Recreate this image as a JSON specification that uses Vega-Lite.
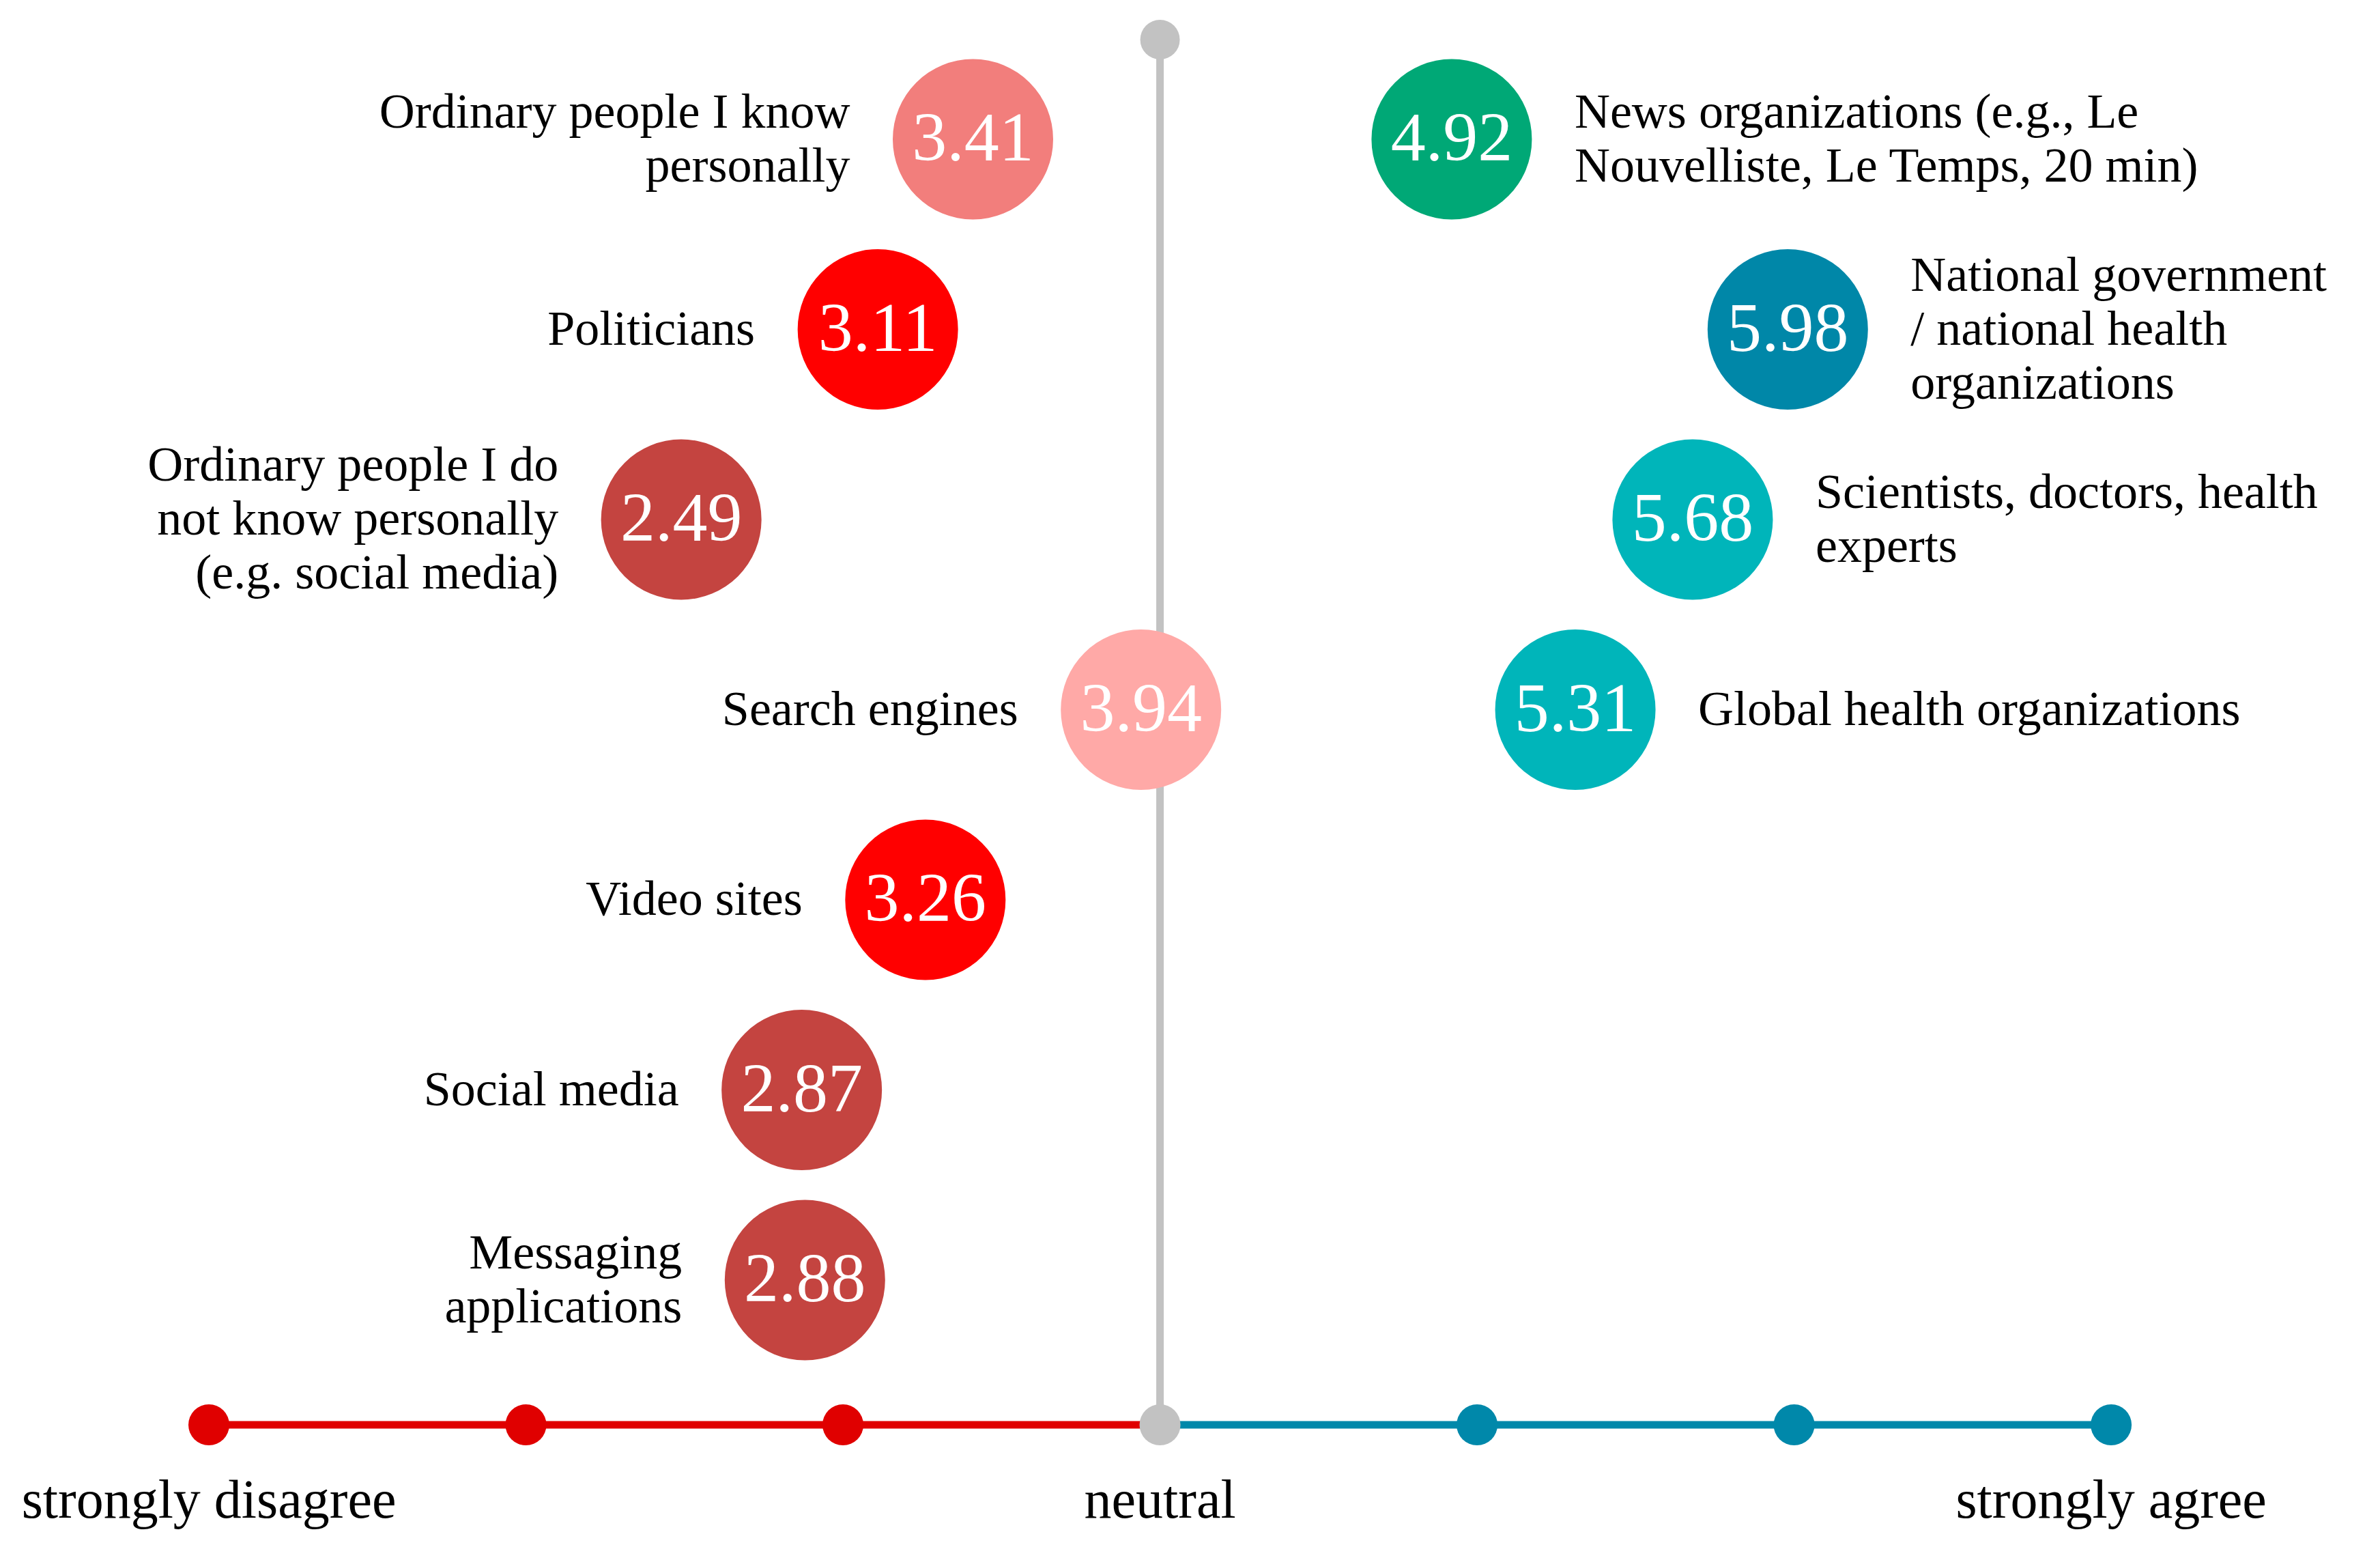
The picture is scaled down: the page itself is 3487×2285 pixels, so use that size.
{
  "$schema": "https://vega.github.io/schema/vega-lite/v6.json",
  "width": 3487,
  "height": 2285,
  "padding": 0,
  "autosize": {"type": "fit", "contains": "padding"},
  "background": "white",
  "config": {"view": {"stroke": null}, "font": "Liberation Serif"},
  "datasets": {
    "sources": [
      {"source": "Ordinary people I know\npersonally", "score": 3.41, "row": 1, "side": "left"},
      {"source": "Politicians", "score": 3.11, "row": 2, "side": "left"},
      {"source": "Ordinary people I do\nnot know personally\n(e.g. social media)", "score": 2.49, "row": 3, "side": "left"},
      {"source": "Search engines", "score": 3.94, "row": 4, "side": "left"},
      {"source": "Video sites", "score": 3.26, "row": 5, "side": "left"},
      {"source": "Social media", "score": 2.87, "row": 6, "side": "left"},
      {"source": "Messaging\napplications", "score": 2.88, "row": 7, "side": "left"},
      {"source": "News organizations (e.g., Le\nNouvelliste, Le Temps, 20 min)", "score": 4.92, "row": 1, "side": "right"},
      {"source": "National government\n/ national health\norganizations", "score": 5.98, "row": 2, "side": "right"},
      {"source": "Scientists, doctors, health\nexperts", "score": 5.68, "row": 3, "side": "right"},
      {"source": "Global health organizations", "score": 5.31, "row": 4, "side": "right"}
    ],
    "scalePoints": [
      {"point": 1, "tone": "disagree", "label": "strongly disagree"},
      {"point": 2, "tone": "disagree", "label": ""},
      {"point": 3, "tone": "disagree", "label": ""},
      {"point": 4, "tone": "neutral", "label": "neutral"},
      {"point": 5, "tone": "agree", "label": ""},
      {"point": 6, "tone": "agree", "label": ""},
      {"point": 7, "tone": "agree", "label": "strongly agree"}
    ],
    "segments": [
      {"from": 1, "to": 4, "tone": "disagree"},
      {"from": 4, "to": 7, "tone": "agree"}
    ],
    "neutral": [{"point": 4, "tone": "neutral"}]
  },
  "resolve": {"scale": {"color": "independent"}},
  "layer": [
    {
      "data": {"name": "neutral"},
      "mark": {"type": "rule", "color": "#c2c2c2", "strokeWidth": 11},
      "encoding": {
        "x": {"field": "point", "type": "quantitative", "scale": {"domain": [0.3412, 7.848], "nice": false, "zero": false}, "axis": null},
        "y": {"datum": 0.476, "type": "quantitative", "scale": {"domain": [0.2675, 8.472], "nice": false, "zero": false, "reverse": true}, "axis": null},
        "y2": {"datum": 7.761}
      }
    },
    {
      "data": {"name": "segments"},
      "mark": {"type": "rule", "strokeWidth": 11},
      "encoding": {
        "x": {"field": "from", "type": "quantitative"},
        "x2": {"field": "to"},
        "y": {"datum": 7.761, "type": "quantitative"},
        "color": {"field": "tone", "type": "nominal", "scale": {"domain": ["disagree", "neutral", "agree"], "range": ["#e00000", "#c2c2c2", "#0088aa"]}, "legend": null}
      }
    },
    {
      "data": {"name": "scalePoints"},
      "mark": {"type": "circle", "size": 3600, "opacity": 1},
      "encoding": {
        "x": {"field": "point", "type": "quantitative"},
        "y": {"datum": 7.761, "type": "quantitative"},
        "color": {"field": "tone", "type": "nominal", "scale": {"domain": ["disagree", "neutral", "agree"], "range": ["#e00000", "#c2c2c2", "#0088aa"]}, "legend": null}
      }
    },
    {
      "data": {"name": "neutral"},
      "mark": {"type": "circle", "size": 3364, "opacity": 1, "color": "#c2c2c2"},
      "encoding": {
        "x": {"field": "point", "type": "quantitative"},
        "y": {"datum": 0.476, "type": "quantitative"}
      }
    },
    {
      "data": {"name": "scalePoints"},
      "transform": [{"filter": "datum.label != ''"}],
      "mark": {"type": "text", "fontSize": 80, "color": "#000000", "baseline": "alphabetic", "align": "center"},
      "encoding": {
        "x": {"field": "point", "type": "quantitative"},
        "y": {"datum": 8.25, "type": "quantitative"},
        "text": {"field": "label"}
      }
    },
    {
      "data": {"name": "sources"},
      "mark": {"type": "circle", "size": 55225, "opacity": 1},
      "encoding": {
        "x": {"field": "score", "type": "quantitative"},
        "y": {"field": "row", "type": "quantitative"},
        "color": {"field": "score", "type": "quantitative", "scale": {"type": "threshold", "domain": [3, 3.35, 3.6, 4.5, 5.1, 5.9], "range": ["#c44440", "#ff0000", "#f27e7c", "#ffa9a7", "#00a876", "#00b5ba", "#0087a8"]}, "legend": null}
      }
    },
    {
      "data": {"name": "sources"},
      "mark": {"type": "text", "fontSize": 102, "color": "white", "align": "center", "baseline": "middle"},
      "encoding": {
        "x": {"field": "score", "type": "quantitative"},
        "y": {"field": "row", "type": "quantitative"},
        "text": {"field": "score", "type": "quantitative", "format": ".2f"}
      }
    },
    {
      "data": {"name": "sources"},
      "transform": [{"filter": "datum.side == 'left' && length(split(datum.source, '\\n')) == 1"}],
      "mark": {"type": "text", "fontSize": 72, "color": "#000000", "align": "right", "baseline": "middle", "dx": -180, "lineBreak": "\n", "lineHeight": 79},
      "encoding": {
        "x": {"field": "score", "type": "quantitative"},
        "y": {"field": "row", "type": "quantitative"},
        "text": {"field": "source"}
      }
    },
    {
      "data": {"name": "sources"},
      "transform": [{"filter": "datum.side == 'left' && length(split(datum.source, '\\n')) == 2"}],
      "mark": {"type": "text", "fontSize": 72, "color": "#000000", "align": "right", "baseline": "middle", "dx": -180, "dy": -39.5, "lineBreak": "\n", "lineHeight": 79},
      "encoding": {
        "x": {"field": "score", "type": "quantitative"},
        "y": {"field": "row", "type": "quantitative"},
        "text": {"field": "source"}
      }
    },
    {
      "data": {"name": "sources"},
      "transform": [{"filter": "datum.side == 'left' && length(split(datum.source, '\\n')) == 3"}],
      "mark": {"type": "text", "fontSize": 72, "color": "#000000", "align": "right", "baseline": "middle", "dx": -180, "dy": -79, "lineBreak": "\n", "lineHeight": 79},
      "encoding": {
        "x": {"field": "score", "type": "quantitative"},
        "y": {"field": "row", "type": "quantitative"},
        "text": {"field": "source"}
      }
    },
    {
      "data": {"name": "sources"},
      "transform": [{"filter": "datum.side == 'right' && length(split(datum.source, '\\n')) == 1"}],
      "mark": {"type": "text", "fontSize": 72, "color": "#000000", "align": "left", "baseline": "middle", "dx": 180, "lineBreak": "\n", "lineHeight": 79},
      "encoding": {
        "x": {"field": "score", "type": "quantitative"},
        "y": {"field": "row", "type": "quantitative"},
        "text": {"field": "source"}
      }
    },
    {
      "data": {"name": "sources"},
      "transform": [{"filter": "datum.side == 'right' && length(split(datum.source, '\\n')) == 2"}],
      "mark": {"type": "text", "fontSize": 72, "color": "#000000", "align": "left", "baseline": "middle", "dx": 180, "dy": -39.5, "lineBreak": "\n", "lineHeight": 79},
      "encoding": {
        "x": {"field": "score", "type": "quantitative"},
        "y": {"field": "row", "type": "quantitative"},
        "text": {"field": "source"}
      }
    },
    {
      "data": {"name": "sources"},
      "transform": [{"filter": "datum.side == 'right' && length(split(datum.source, '\\n')) == 3"}],
      "mark": {"type": "text", "fontSize": 72, "color": "#000000", "align": "left", "baseline": "middle", "dx": 180, "dy": -79, "lineBreak": "\n", "lineHeight": 79},
      "encoding": {
        "x": {"field": "score", "type": "quantitative"},
        "y": {"field": "row", "type": "quantitative"},
        "text": {"field": "source"}
      }
    }
  ]
}
